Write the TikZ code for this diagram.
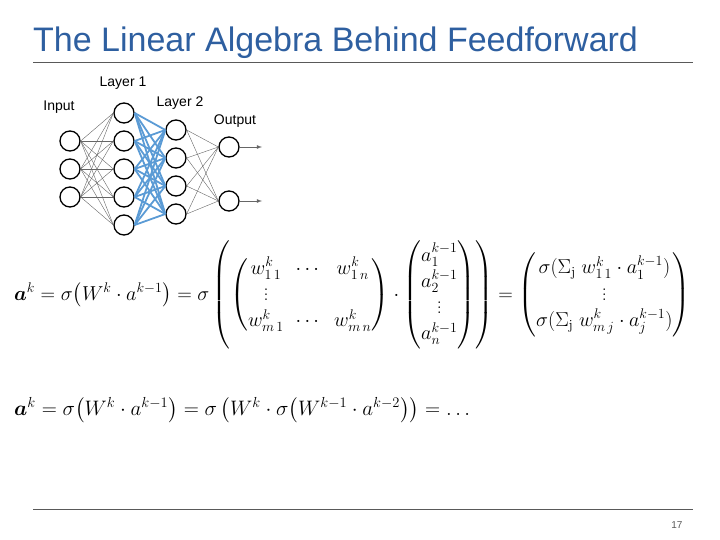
\documentclass[tikz,border=0pt]{standalone}
\usepackage{amsmath,graphicx}
\usepackage{fontspec}
\setsansfont{Liberation Sans}
\definecolor{titleblue}{HTML}{2E5FA0}
\definecolor{edgeblue}{HTML}{5B9BD5}
\begin{document}
\begin{tikzpicture}[x=1pt,y=-1pt,
  neuron/.style={circle,draw,line width=1.3pt,minimum size=20pt,inner sep=0pt},
  thin edge/.style={gray!80!black,line width=0.4pt},
  blue edge/.style={edgeblue,line width=1.8pt},
  lbl/.style={font=\sffamily\fontsize{14}{16}\selectfont}]
\useasboundingbox (0,0) rectangle (720,540);
\node[anchor=base west,text=titleblue,font=\sffamily\fontsize{34}{36}\selectfont,inner sep=0] (title) at (33,52) {The Linear Algebra Behind Feedforward};
\coordinate (tl) at (33,62); \coordinate (tr) at (693,62);
\draw[gray!70!black,line width=0.6pt] (tl) -- (tr);
\coordinate (bl) at (33,509); \coordinate (br) at (693,509);
\draw[gray!70!black,line width=0.6pt] (bl) -- (br);
\node[anchor=base east,font=\sffamily\fontsize{10}{12}\selectfont,text=gray!70!black] (pg) at (686,528) {17};
% neurons
\foreach \i/\y in {1/141,2/169,3/197} \node[neuron] (i\i) at (70,\y) {};
\foreach \i/\y in {1/113,2/141,3/169,4/197,5/225} \node[neuron] (a\i) at (124,\y) {};
\foreach \i/\y in {1/130,2/158,3/186,4/214} \node[neuron] (b\i) at (176,\y) {};
\foreach \i/\y in {1/147,2/201} \node[neuron] (o\i) at (229,\y) {};
\foreach \i in {1,2,3} \foreach \j in {1,...,5} \draw[thin edge] (i\i.east) -- (a\j.west);
\foreach \i in {1,...,5} \foreach \j in {1,...,4} \draw[blue edge] (a\i.east) -- (b\j.west);
\foreach \i in {1,...,4} \foreach \j in {1,2} \draw[thin edge] (b\i.east) -- (o\j.west);
\coordinate (e1) at (262,147); \coordinate (e2) at (262,201);
\draw[gray!80!black,line width=0.8pt,-latex] (o1) -- (e1);
\draw[gray!80!black,line width=0.8pt,-latex] (o2) -- (e2);
\node[lbl] (lin) at (59,107) {Input};
\node[lbl] (l1) at (123,83) {Layer 1};
\node[lbl] (l2) at (180,103) {Layer 2};
\node[lbl] (lout) at (235,121) {Output};
% equations
\node[anchor=west,inner sep=0] (eq1) at (14,295) {\resizebox{676pt}{!}{\fontsize{17}{20}\selectfont$\renewcommand\arraystretch{1.12}
\boldsymbol{a}^k=\sigma\big(W^k\cdot a^{k-1}\big)=\sigma\left(\begin{pmatrix} w^k_{1\,1} & \cdots & w^k_{1\,n}\\ \vdots & & \\ w^k_{m\,1} & \cdots & w^k_{m\,n}\end{pmatrix}\cdot\begin{pmatrix} a^{k-1}_1\\ a^{k-1}_2\\ \vdots\\ a^{k-1}_n\end{pmatrix}\right)=\begin{pmatrix}\sigma(\Sigma_{\mathrm j}\; w^k_{1\,1}\cdot a^{k-1}_1)\\ \vdots\\ \sigma(\Sigma_{\mathrm j}\; w^k_{m\,j}\cdot a^{k-1}_j)\end{pmatrix}$}};
\node[anchor=west,inner sep=0] (eq2) at (14,410) {\resizebox{456pt}{!}{\fontsize{17}{20}\selectfont$
\boldsymbol{a}^k=\sigma\big(W^k\cdot a^{k-1}\big)=\sigma\left(W^k\cdot\sigma\big(W^{k-1}\cdot a^{k-2}\big)\right)=\ldots$}};
\end{tikzpicture}
\end{document}
